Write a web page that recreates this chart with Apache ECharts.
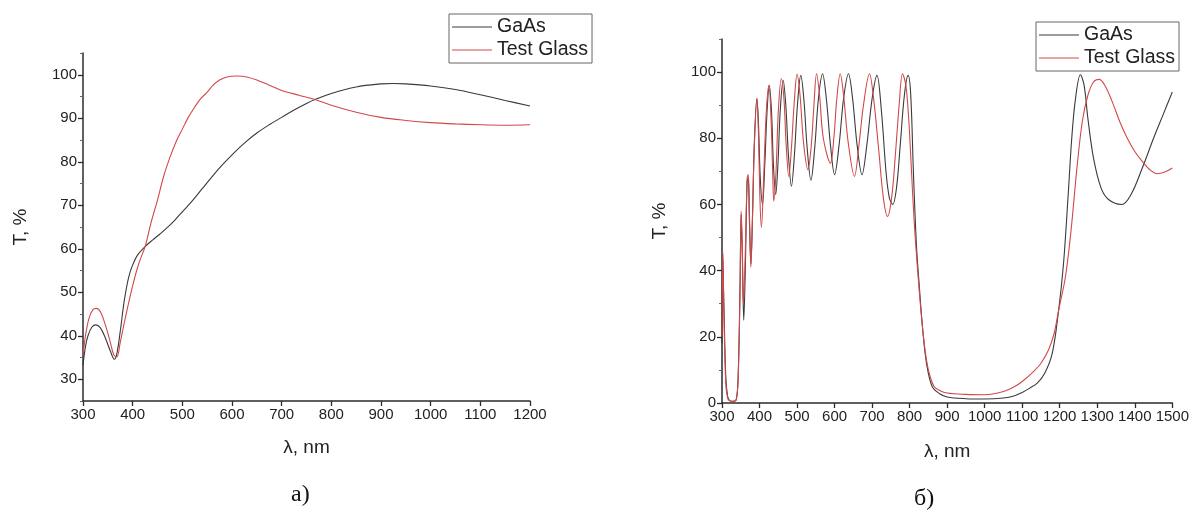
<!DOCTYPE html>
<html>
<head>
<meta charset="utf-8">
<script src="https://cdn.jsdelivr.net/npm/echarts@6/dist/echarts.min.js"></script>
<style>html,body{margin:0;padding:0;background:#fff}#c{width:1192px;height:514px}</style>
</head>
<body>
<div id="c"></div>
<script>
// ---- data (wavelength nm, transmission %) ----
const seriesNames = ['GaAs', 'Test Glass'];

const leftGaAs = [[300,33.3],[305,37.5],[310,40],[318,42],[326,42.5],[335,41.8],[345,39.5],[355,36.5],[363,34.6],[368,35.8],[375,41],[383,48],[392,53.5],[400,56.3],[410,58.6],[425,60.5],[440,62],[455,63.4],[470,64.9],[485,66.6],[500,68.5],[520,71],[540,73.8],[560,76.6],[580,79.2],[600,81.6],[625,84.3],[650,86.6],[675,88.5],[700,90.2],[725,91.9],[750,93.4],[767,94.3],[800,95.7],[850,97.2],[900,97.9],[925,98],[950,97.9],[1000,97.4],[1050,96.6],[1100,95.4],[1150,94.1],[1200,92.8]];
const leftGlass = [[300,35.5],[305,40],[312,44],[320,46],[327,46.3],[335,45.5],[345,42.5],[355,38.5],[362,35.6],[368,35.1],[375,38.5],[385,44],[400,51.5],[412,56.5],[425,60.5],[437,66],[450,71.2],[462,76.5],[475,81],[487,84.5],[500,87.5],[512,90.2],[525,92.6],[537,94.5],[550,96],[562,97.6],[575,98.8],[590,99.5],[610,99.7],[630,99.5],[650,98.8],[675,97.6],[700,96.4],[735,95.3],[767,94.3],[800,93],[850,91.4],[900,90.2],[950,89.5],[1000,89],[1050,88.7],[1100,88.5],[1150,88.4],[1200,88.5]];

const rightGaAs = [[300,18],[302,45],[305,30],[310,8],[315,2],[320,0.8],[330,0.5],[338,1],[343,8],[348,35],[351,57],[354,45],[358,25],[362,40],[367,67],[370,68],[373,55],[377,42],[381,55],[386,78],[393,92],[397,85],[402,68],[408,60],[414,72],[420,88],[426,96],[432,88],[437,72],[443,63],[449,72],[455,88],[463,97.5],[470,90],[477,75],[485,65.5],[493,75],[501,90],[510,99],[518,92],[527,77],[537,67.3],[547,77],[557,92],[568,99.5],[578,92],[589,78],[600,69],[612,78],[624,92],[637,99.5],[648,92],[660,78],[673,69],[686,78],[700,92],[713,99],[725,88],[737,70],[746,62],[755,60],[765,65],[775,78],[786,93],[796,99],[803,93],[810,70],[818,48],[826,35],[835,22],[845,12],[860,5],[880,2.8],[900,1.8],[950,1.3],[1000,1.2],[1050,1.5],[1080,2.2],[1100,3.2],[1120,4.5],[1140,6],[1160,9],[1180,15],[1197,28],[1210,42],[1222,62],[1232,80],[1242,92],[1255,99.2],[1265,96],[1275,86],[1290,74],[1310,65],[1330,61.5],[1365,60],[1390,63],[1420,71],[1450,80],[1475,87],[1500,94]];
const rightGlass = [[300,20],[302,46],[305,28],[310,6],[315,1.5],[320,0.7],[330,0.5],[338,1],[343,7],[348,33],[351,58],[354,48],[357,30],[362,45],[367,68],[370,69],[373,58],[377,41],[381,55],[386,77],[393,92],[397,82],[401,62],[405,53],[411,68],[418,88],[425,96],[431,85],[435,70],[438,61],[444,70],[450,88],[458,98],[465,92],[471,78],[478,68.5],[485,77],[492,90],[500,99.3],[508,93],[517,79],[529,70.5],[538,78],[545,90],[552,99.5],[560,93],[570,80],[589,72.5],[598,80],[606,92],[615,99.5],[624,93],[636,79],[653,68.5],[665,78],[677,90],[693,99.5],[704,92],[718,76],[730,62],[741,56.4],[752,62],[762,75],[772,90],[781,99.5],[790,96],[798,85],[805,70],[812,55],[820,42],[830,28],[840,17],[850,10],[865,5],[880,3.8],[900,3],[950,2.6],[1000,2.5],[1050,3.5],[1080,5],[1100,6.5],[1130,9.5],[1150,12],[1170,16],[1185,21],[1197,28],[1215,38],[1230,52],[1245,70],[1260,85],[1275,93],[1290,97],[1305,97.8],[1320,96],[1340,91],[1360,85],[1380,80],[1400,76],[1420,73],[1440,70.5],[1460,69.3],[1480,69.8],[1500,71]];

const leftYMajor = [30,40,50,60,70,80,90,100];
const leftYMinor = [25,35,45,55,65,75,85,95,105];
const rightYMajor = [0,20,40,60,80,100];
const rightYMinor = [10,30,50,70,90,110];
const captions = ['а)', 'б)'];

// ---- styling ----
const AX = '#2b2b2b';
const FONT = 'Liberation Sans, Arial, sans-serif';
const cBlack = '#3a3a3a';
const cRed = '#d24848';
const plain = v => String(v);

function xAx(grid, min, max) {
  return {
    type: 'value', gridIndex: grid, min: min, max: max, interval: 100,
    name: 'λ, nm', nameLocation: 'middle', nameGap: grid === 0 ? 37 : 39,
    nameTextStyle: { fontFamily: FONT, fontSize: 19, color: '#222' },
    axisLine: { onZero: false, lineStyle: { color: AX, width: 1.5 } },
    axisTick: { length: 5, lineStyle: { color: AX, width: 1.3 } },
    axisLabel: { fontFamily: FONT, fontSize: 15, color: '#222', margin: 6, formatter: plain },
    splitLine: { show: false }
  };
}
function yAx(grid, min, max, major) {
  return {
    type: 'value', gridIndex: grid, min: min, max: max, position: 'left',
    name: 'T, %', nameLocation: 'middle', nameRotate: 90, nameGap: 53,
    nameTextStyle: { fontFamily: FONT, fontSize: 19, color: '#222' },
    axisLine: { onZero: false, lineStyle: { color: AX, width: 1.5 } },
    axisTick: { length: 5, customValues: major, lineStyle: { color: AX, width: 1.3 } },
    axisLabel: { fontFamily: FONT, fontSize: 15, color: '#222', margin: 6, customValues: major, formatter: plain },
    splitLine: { show: false }
  };
}
function yMinor(grid, min, max, minor) {
  return {
    type: 'value', gridIndex: grid, min: min, max: max, position: 'left', offset: 0,
    axisLine: { show: false },
    axisTick: { length: 3, customValues: minor, lineStyle: { color: '#666', width: 1 } },
    axisLabel: { show: false },
    splitLine: { show: false }
  };
}
function legendAt(left, top) {
  return {
    data: seriesNames, orient: 'vertical', left: left, top: top,
    icon: 'rect', itemWidth: 40, itemHeight: 1.2, itemGap: 3,
    padding: [3, 4, 3, 3], borderColor: '#666', borderWidth: 1,
    selectedMode: false,
    textStyle: { fontFamily: FONT, fontSize: 19.5, color: '#222', padding: [0, 0, 0, 0] }
  };
}
function line(name, data, xi, yi, color) {
  return {
    type: 'line', name: name, data: data, xAxisIndex: xi, yAxisIndex: yi,
    symbol: 'none', smooth: 0.35, animation: false,
    lineStyle: { color: color, width: 1.1 }, itemStyle: { color: color }
  };
}

const chart = echarts.init(document.getElementById('c'), null, { renderer: 'canvas' });
chart.setOption({
  backgroundColor: '#fff',
  animation: false,
  grid: [
    { left: 83, right: 662, top: 53, bottom: 113 },
    { left: 722, right: 15, top: 39, bottom: 111 }
  ],
  xAxis: [xAx(0, 300, 1200), xAx(1, 300, 1500)],
  yAxis: [yAx(0, 25, 105, leftYMajor), yMinor(0, 25, 105, leftYMinor),
          yAx(1, 0, 110, rightYMajor), yMinor(1, 0, 110, rightYMinor)],
  legend: [legendAt(449, 14), legendAt(1036, 22)],
  series: [
    line('GaAs', leftGaAs, 0, 0, cBlack),
    line('Test Glass', leftGlass, 0, 0, cRed),
    line('GaAs', rightGaAs, 1, 2, cBlack),
    line('Test Glass', rightGlass, 1, 2, cRed)
  ],
  graphic: [
    { type: 'text', left: 291, top: 483, style: { text: captions[0], font: '24px "Liberation Serif", "Times New Roman", serif', fill: '#111' } },
    { type: 'text', left: 914, top: 487, style: { text: captions[1], font: '24px "Liberation Serif", "Times New Roman", serif', fill: '#111' } }
  ]
});
</script>
</body>
</html>
